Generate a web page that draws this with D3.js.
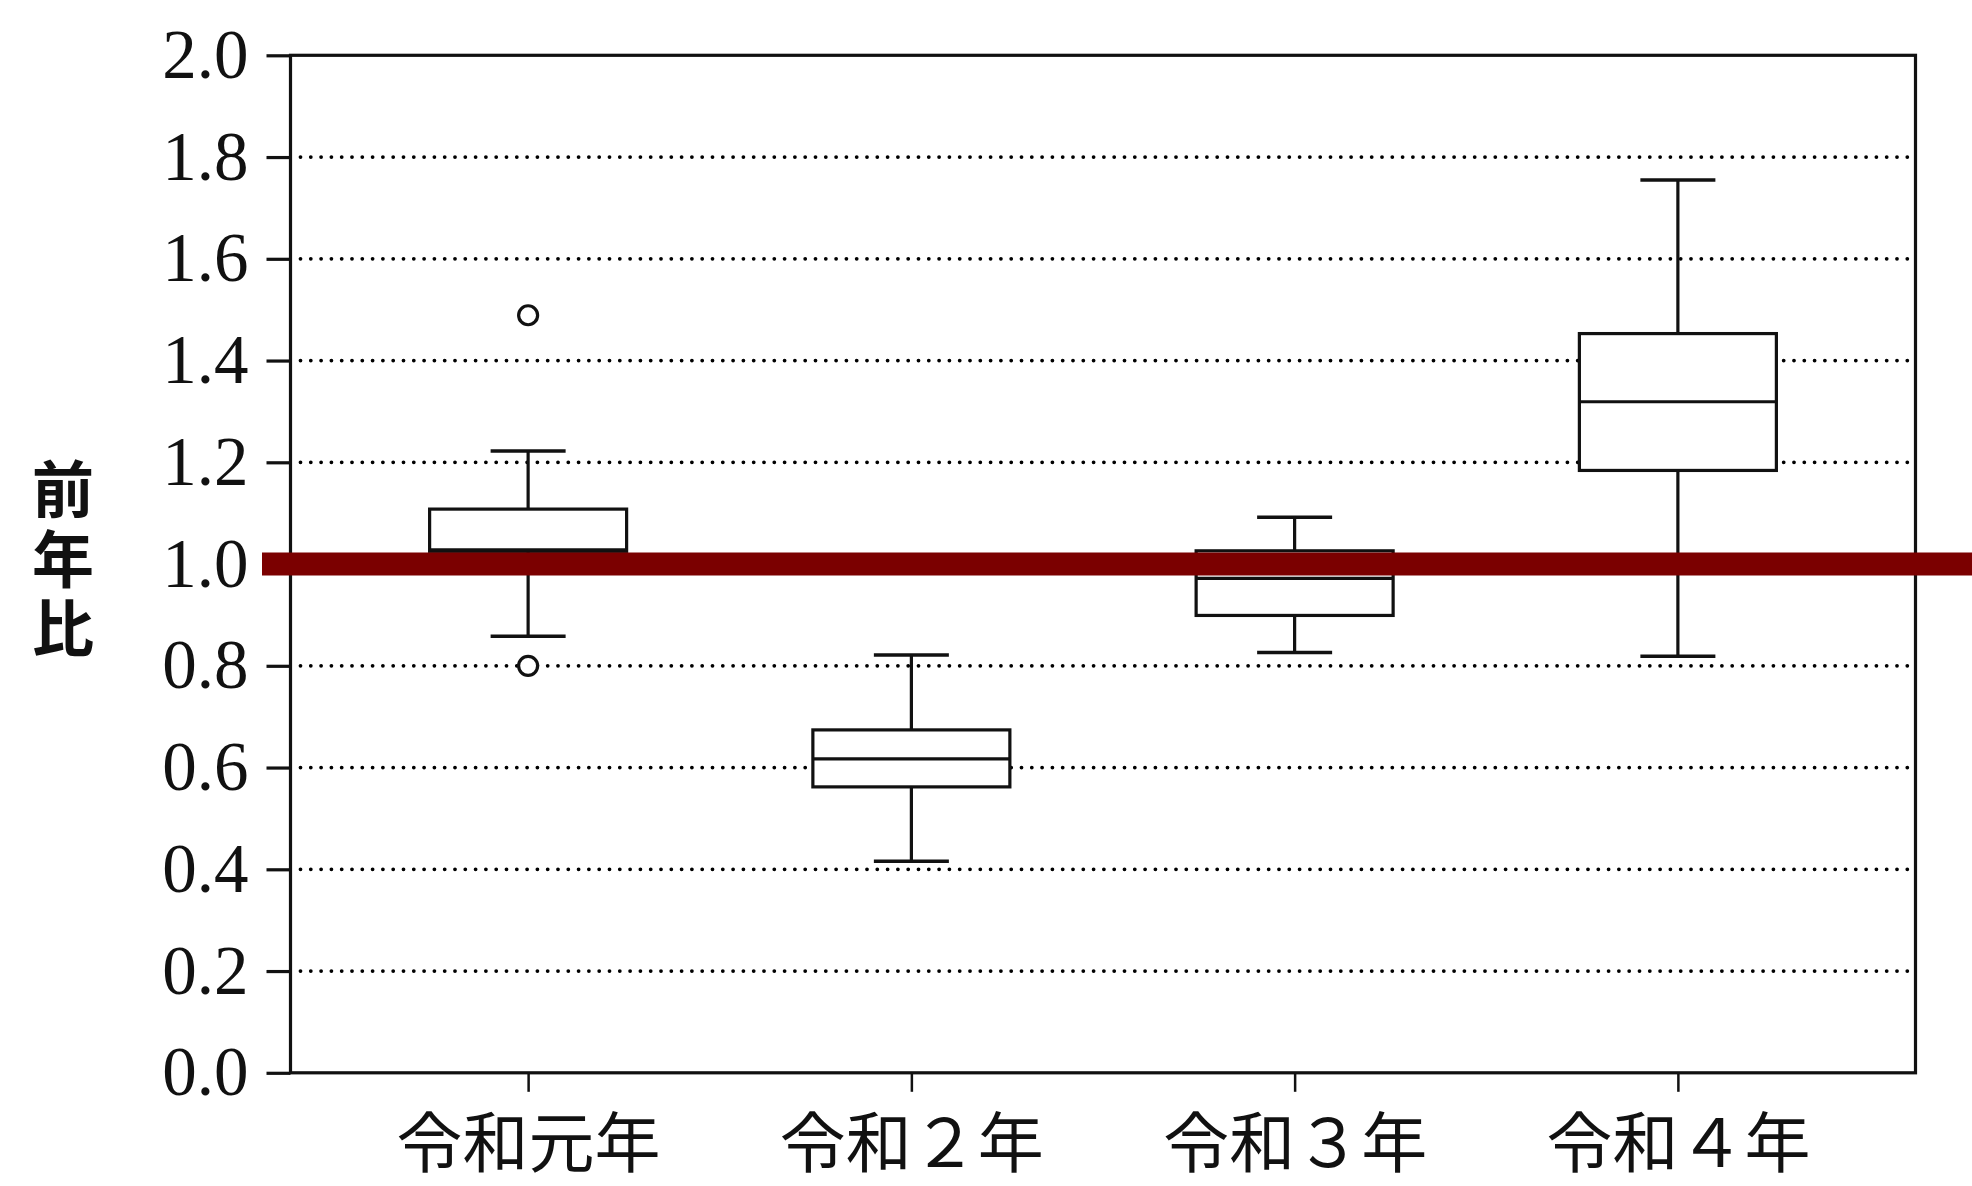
<!DOCTYPE html>
<html lang="ja">
<head>
<meta charset="utf-8">
<script src="https://cdn.jsdelivr.net/npm/d3@7"></script>
<style>
  html, body { margin: 0; padding: 0; background: #fff; }
  svg { display: block; }
</style>
</head>
<body>
<svg id="chart" width="1972" height="1186"></svg>
<script>
// Year-on-year ratio (前年比) distribution per year, drawn as box plots
const categories  = ["令和元年", "令和２年", "令和３年", "令和４年"];
const whiskerHigh = [1.222, 0.821, 1.092, 1.755];
const q3          = [1.108, 0.674, 1.026, 1.453];
const median      = [1.028, 0.617, 0.972, 1.319];
const q1          = [1.025, 0.562, 0.899, 1.184];
const whiskerLow  = [0.858, 0.416, 0.826, 0.819];
const outliers    = [[1.489, 0.800], [], [], []];
const yTicks      = [0.0, 0.2, 0.4, 0.6, 0.8, 1.0, 1.2, 1.4, 1.6, 1.8, 2.0];
const referenceValue = 1.0;
const yTitle = "前年比";

const W = 1972, H = 1186;
const plot = { left: 290.5, right: 1915.5, top: 55.3, bottom: 1072.8 };

const svg = d3.select("#chart");

const y = d3.scaleLinear().domain([0, 2]).range([plot.bottom, plot.top]);
const x = d3.scalePoint().domain(categories).range([plot.left, plot.right]).padding(0.62);

const boxW = 197, capW = 75;
const ink = "#111";

// dotted horizontal gridlines
svg.append("g")
  .selectAll("line")
  .data(yTicks.filter(v => v > 0 && v < 2))
  .join("line")
  .attr("x1", plot.left + 10)
  .attr("x2", plot.right - 6)
  .attr("y1", d => y(d))
  .attr("y2", d => y(d))
  .attr("stroke", "#000")
  .attr("stroke-width", 3.8)
  .attr("stroke-linecap", "round")
  .attr("stroke-dasharray", "0 10.3");

// left axis with outward ticks and serif labels
const yAxis = svg.append("g")
  .attr("transform", `translate(${plot.left},0)`)
  .call(d3.axisLeft(y).tickValues(yTicks).tickSize(24).tickPadding(18).tickFormat(d3.format(".1f")));
yAxis.select(".domain").remove();
yAxis.selectAll(".tick line").attr("stroke", ink).attr("stroke-width", 3.2);
yAxis.selectAll(".tick text")
  .attr("fill", "#111")
  .style("font-family", "'Liberation Serif', 'DejaVu Serif', serif")
  .style("font-size", "69px");

// bottom axis with category ticks
const xAxis = svg.append("g")
  .attr("transform", `translate(0,${plot.bottom})`)
  .call(d3.axisBottom(x).tickSize(19).tickPadding(0));
xAxis.select(".domain").remove();
xAxis.selectAll(".tick line").attr("stroke", ink).attr("stroke-width", 2.5);
xAxis.selectAll(".tick text")
  .attr("y", 94)
  .attr("dy", 0)
  .attr("fill", "#111")
  .style("font-family", "'Noto Sans CJK JP', sans-serif")
  .style("font-weight", 400)
  .style("font-size", "66px");

// plot frame
svg.append("rect")
  .attr("x", plot.left)
  .attr("y", plot.top)
  .attr("width", plot.right - plot.left)
  .attr("height", plot.bottom - plot.top)
  .attr("fill", "none")
  .attr("stroke", ink)
  .attr("stroke-width", 3.2);

// box plots
const stats = categories.map((c, i) => ({
  c, hi: whiskerHigh[i], q3: q3[i], med: median[i], q1: q1[i], lo: whiskerLow[i], out: outliers[i]
}));

const boxes = svg.append("g")
  .selectAll("g")
  .data(stats)
  .join("g")
  .attr("transform", d => `translate(${x(d.c)},0)`);

boxes.append("line")
  .attr("x1", 0).attr("x2", 0)
  .attr("y1", d => y(d.hi)).attr("y2", d => y(d.q3))
  .attr("stroke", ink).attr("stroke-width", 3.2);
boxes.append("line")
  .attr("x1", 0).attr("x2", 0)
  .attr("y1", d => y(d.q1)).attr("y2", d => y(d.lo))
  .attr("stroke", ink).attr("stroke-width", 3.2);
boxes.append("line")
  .attr("x1", -capW / 2).attr("x2", capW / 2)
  .attr("y1", d => y(d.hi)).attr("y2", d => y(d.hi))
  .attr("stroke", ink).attr("stroke-width", 3.5);
boxes.append("line")
  .attr("x1", -capW / 2).attr("x2", capW / 2)
  .attr("y1", d => y(d.lo)).attr("y2", d => y(d.lo))
  .attr("stroke", ink).attr("stroke-width", 3.5);
boxes.append("rect")
  .attr("x", -boxW / 2)
  .attr("width", boxW)
  .attr("y", d => y(d.q3))
  .attr("height", d => y(d.q1) - y(d.q3))
  .attr("fill", "#fff")
  .attr("stroke", ink)
  .attr("stroke-width", 3.2);
boxes.append("line")
  .attr("x1", -boxW / 2).attr("x2", boxW / 2)
  .attr("y1", d => y(d.med)).attr("y2", d => y(d.med))
  .attr("stroke", ink).attr("stroke-width", 3.2);
boxes.selectAll("circle")
  .data(d => d.out)
  .join("circle")
  .attr("cx", 0)
  .attr("cy", v => y(v))
  .attr("r", 9.5)
  .attr("fill", "#fff")
  .attr("stroke", ink)
  .attr("stroke-width", 3.2);

// reference band at ratio 1.0
svg.append("line")
  .attr("x1", 262)
  .attr("x2", W)
  .attr("y1", y(referenceValue))
  .attr("y2", y(referenceValue))
  .attr("stroke", "#7b0000")
  .attr("stroke-width", 23);

// vertical axis title, set top-to-bottom
svg.append("text")
  .attr("x", 63)
  .attr("y", 563)
  .attr("fill", "#111")
  .attr("text-anchor", "middle")
  .style("writing-mode", "vertical-rl")
  .style("text-orientation", "upright")
  .style("letter-spacing", "7.5px")
  .style("font-family", "'Noto Sans CJK JP', sans-serif")
  .style("font-weight", 700)
  .style("font-size", "62px")
  .text(yTitle);
</script>
</body>
</html>
